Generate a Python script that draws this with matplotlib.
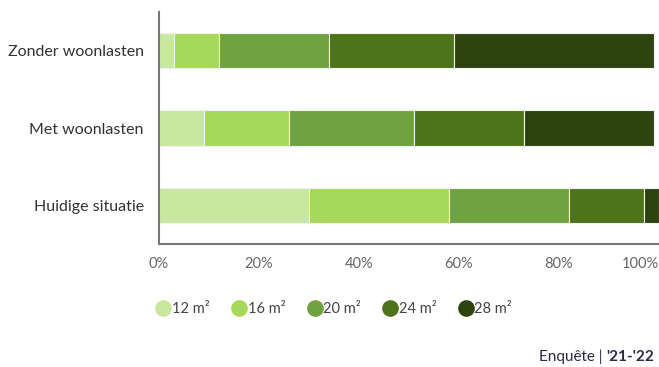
import matplotlib
matplotlib.use("Agg")
import matplotlib.pyplot as plt
from matplotlib.lines import Line2D

categories = ["Huidige situatie", "Met woonlasten", "Zonder woonlasten"]
sizes = ["12 m²", "16 m²", "20 m²", "24 m²", "28 m²"]
values = {
    "12 m²": [30, 9, 3],
    "16 m²": [28, 17, 9],
    "20 m²": [24, 25, 22],
    "24 m²": [15, 22, 25],
    "28 m²": [3, 26, 40],
}
colors = ["#c9e89f", "#a6d95a", "#6fa33f", "#4e7419", "#2d4410"]
xticks = [0, 20, 40, 60, 80, 100]
xtick_labels = ["0%", "20%", "40%", "60%", "80%", "100%"]

plt.rcParams['font.family'] = ['Lato', 'DejaVu Sans']

fig = plt.figure(figsize=(6.59, 3.67), dpi=100)
ax = fig.add_axes([159/659, 1-244/367, 1-159/659, (244-12)/367])

left = [0]*len(categories)
for s, c in zip(sizes, colors):
    ax.barh(range(len(categories)), values[s], left=left, height=0.46,
            color=c, edgecolor="#f2f2f2", linewidth=0.8)
    left = [l + v for l, v in zip(left, values[s])]

ax.set_xlim(0, 100)
ax.set_ylim(-0.5, 2.5)
ax.set_yticks(range(len(categories)))
ax.set_yticklabels(categories, fontsize=11.5, color="#333333")
ax.set_xticks(xticks)
labels = ax.set_xticklabels(xtick_labels, fontsize=10.5, color="#666666")
labels[-1].set_ha("right")
ax.tick_params(axis="both", length=0)
ax.tick_params(axis="x", pad=9)
ax.tick_params(axis="y", pad=11)
for sp in ["top", "right"]:
    ax.spines[sp].set_visible(False)
for sp in ["left", "bottom"]:
    ax.spines[sp].set_color("#777777")
    ax.spines[sp].set_linewidth(1.5)

handles = [Line2D([], [], marker="o", ls="", markersize=12, color=c,
                  markeredgewidth=0) for c in colors]
fig.legend(handles, sizes, loc="center left", bbox_to_anchor=(143/659, 1-309/367),
           ncol=5, frameon=False, fontsize=10.5, handletextpad=0.1,
           columnspacing=1.5, handlelength=1.0, labelcolor="#444444")

fig.text(606/659, 1-361/367, "Enquête | ", ha="right", va="baseline",
         fontsize=11, color="#2b2b4a")
fig.text(606/659, 1-361/367, "'21-'22", ha="left", va="baseline",
         fontsize=11, color="#2b2b4a", fontweight="bold")

fig.savefig("out.png", dpi=100)
